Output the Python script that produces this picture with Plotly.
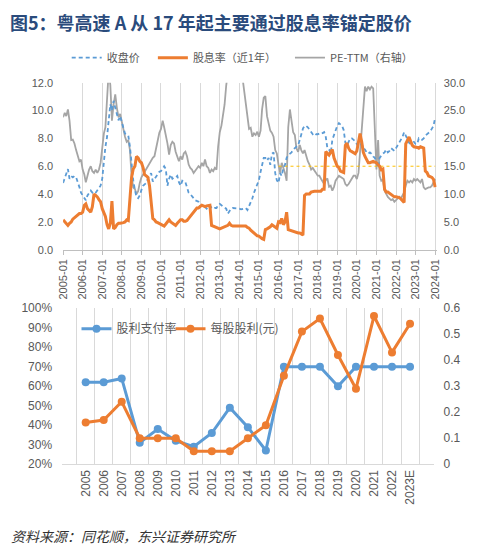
import pandas as pd
import plotly.graph_objects as go

# ---------------- Top chart data (monthly, 2005-01 .. 2024-01) ----------------
close_price = [
    4.8, 5.2, 5.5, 5.8, 5.1, 5.3, 5.2, 5.3, 5.2, 4.9, 4.5, 4.1,        # 2005
    3.9, 3.7, 3.55, 3.9, 4.1, 4.25, 4.1, 4.0, 4.1, 4.25, 4.4, 4.6,     # 2006
    5.1, 6.5, 7.4, 8.1, 9.5, 10.45, 10.0, 10.7, 10.2, 9.75, 9.3, 9.6,  # 2007
    9.15, 8.7, 8.35, 8.3, 8.2, 7.4, 6.2, 5.0, 4.3, 3.8, 3.7, 3.9,      # 2008
    4.3, 4.6, 4.7, 4.8, 5.1, 5.3, 5.5, 4.9, 5.1, 5.3, 5.5, 5.6,        # 2009
    5.65, 5.8, 6.0, 5.8, 4.6, 5.1, 5.4, 5.1, 5.2, 5.2, 5.3, 4.85,      # 2010
    4.6, 4.95, 4.85, 4.85, 4.5, 4.1, 4.0, 3.8, 3.7, 3.55, 3.5, 3.45,   # 2011
    3.1, 3.2, 3.2, 3.1, 2.95, 3.1, 3.2, 3.0, 2.95, 3.0, 3.0, 3.2,      # 2012
    3.3, 3.2, 3.1, 3.0, 2.95, 2.6, 2.8, 2.95, 3.0, 3.0, 2.95, 2.95,    # 2013
    2.95, 2.9, 2.95, 3.0, 3.0, 2.85, 3.1, 3.4, 3.7, 4.1, 4.4, 4.7,     # 2014
    5.0, 5.6, 6.2, 6.6, 6.6, 6.4, 6.6, 6.1, 6.9, 7.0, 5.5, 5.0,        # 2015
    4.8, 5.5, 5.3, 5.9, 6.1, 6.6, 6.8, 6.9, 7.0, 7.2, 7.3, 7.4,        # 2016
    7.5, 7.9, 8.3, 8.7, 8.9, 8.9, 8.8, 8.6, 8.4, 8.3, 8.4, 8.3,        # 2017
    8.3, 8.35, 8.3, 8.4, 8.45, 8.1, 7.3, 7.2, 6.9, 7.9, 8.3, 8.6,      # 2018
    8.9, 9.1, 9.0, 8.9, 8.6, 7.7, 7.5, 7.7, 8.0, 8.0, 7.9, 7.8,        # 2019
    7.6, 7.4, 7.5, 7.6, 7.3, 7.2, 7.0, 6.9, 7.0, 6.9, 6.7, 6.6,        # 2020
    6.3, 5.9, 6.6, 6.8, 6.9, 7.0, 7.2, 7.0, 7.1, 7.3, 7.2, 7.1,        # 2021
    7.3, 7.5, 7.75, 7.9, 8.1, 8.45, 8.2, 7.9, 7.7, 7.6, 7.7, 7.75,     # 2022
    7.6, 7.6, 8.0, 7.9, 7.9, 8.0, 8.2, 8.3, 8.35, 8.5, 8.7, 8.9,       # 2023
    9.5,                                                               # 2024-01
]

dividend_yield = [
    2.15, 2.0, 1.9, 1.75, 1.9, 2.0, 2.2, 2.3, 2.4, 2.5, 2.6, 2.6,      # 2005
    2.7, 3.2, 3.3, 2.95, 2.8, 2.7, 3.1, 4.0, 3.9, 3.8, 3.6, 3.45,      # 2006
    2.95, 2.6, 2.4, 1.8, 1.5, 1.9, 3.5, 1.5, 1.6, 1.8, 1.9, 1.9,       # 2007
    1.9, 1.95, 2.0, 2.15, 2.1, 3.65, 5.2, 5.8, 6.0, 6.7, 6.6, 6.35,    # 2008
    6.25, 5.9, 5.4, 5.3, 5.2, 4.6, 3.55, 2.25, 2.15, 2.0, 1.95, 1.9,   # 2009
    1.8, 1.75, 1.7, 1.85, 2.0, 2.15, 2.0, 1.9, 1.8, 1.75, 1.9, 2.05,   # 2010
    2.15, 2.15, 2.05, 2.05, 2.1, 2.25, 2.4, 2.6, 2.75, 2.9, 3.0, 3.0,  # 2011
    3.1, 3.2, 3.15, 3.1, 3.15, 3.2, 3.2, 1.75, 1.7, 1.7, 1.6, 1.55,    # 2012
    1.5, 1.55, 1.6, 1.65, 1.7, 1.75, 1.9, 1.75, 1.7, 1.7, 1.7, 1.7,    # 2013
    1.7, 1.7, 1.7, 1.7, 1.7, 1.6, 1.55, 1.4, 1.3, 1.15, 1.05, 1.0,     # 2014
    0.98, 0.86, 0.8, 0.75, 1.45, 1.5, 1.55, 1.65, 1.8, 1.7, 1.6, 1.55, # 2015
    2.0, 1.95, 2.25, 1.8, 2.0, 2.7, 1.45, 1.4, 1.35, 1.35, 1.3, 1.25,  # 2016
    1.2, 1.2, 1.15, 1.05, 3.9, 4.0, 4.0, 4.0, 4.15, 4.2, 4.2, 4.2,     # 2017
    4.2, 4.25, 4.2, 4.35, 4.35, 7.05, 6.9, 6.8, 7.0, 7.2, 6.6, 6.3,    # 2018
    6.0, 5.9, 5.65, 5.6, 5.55, 7.5, 7.65, 7.3, 7.1, 7.05, 6.95, 6.9,   # 2019
    7.1, 7.9, 8.35, 7.75, 7.0, 6.7, 6.5, 6.25, 6.25, 6.3, 6.35, 6.3,   # 2020
    6.25, 6.1, 6.0, 5.75, 5.8, 4.35, 4.15, 4.15, 4.05, 3.95, 3.85, 3.8,  # 2021
    3.8, 3.8, 3.75, 3.65, 3.5, 3.4, 7.6, 7.9, 8.1, 7.8, 7.5, 7.4,      # 2022
    7.4, 7.35, 7.3, 7.4, 7.35, 7.3, 5.65, 5.55, 5.3, 5.25, 5.2, 5.05,  # 2023
    4.5,                                                               # 2024-01
]

pe_ttm = [
    23.8, 24.6, 24.0, 25.2, 23.2, 19.7, 19.8, 19.1, 17.9, 16.8, 15.9, 16.2,  # 2005
    14.4, 13.5, 12.1, 13.3, 14.4, 15.0, 14.1, 13.8, 14.4, 13.8, 14.4, 15.6,  # 2006
    18.5, 20.9, 22.0, 27.9, 32.0, 29.6, 23.2, 26.1, 27.9, 25.5, 23.8, 24.4,  # 2007
    22.9, 21.4, 20.3, 19.4, 19.7, 17.9, 13.3, 11.2, 10.9, 10.0, 10.5, 12.0,  # 2008
    13.0, 13.5, 14.0, 14.5, 15.0, 15.5, 16.0, 16.5, 16.8, 18.3, 19.5, 21.0,  # 2009
    21.7, 23.2, 22.0, 20.6, 19.1, 17.1, 18.8, 19.4, 19.1, 17.6, 16.5, 15.9,  # 2010
    16.8, 16.2, 17.3, 17.6, 16.8, 15.3, 14.7, 14.4, 13.8, 14.1, 14.6, 15.0,  # 2011
    14.7, 15.6, 15.0, 16.2, 15.0, 14.7, 13.8, 14.4, 14.1, 14.7, 14.4, 18.5,  # 2012
    21.1, 22.3, 23.8, 26.1, 29.5, 33.0, 34.0, 34.0, 34.0, 34.0, 34.0, 34.0,  # 2013
    34.0, 33.0, 31.0, 28.5, 26.1, 23.8, 21.7, 21.9, 20.3, 20.9, 20.6, 21.2,  # 2014
    20.3, 21.4, 25.2, 27.3, 27.6, 24.0, 22.6, 21.4, 21.0, 20.3, 17.9, 17.3,  # 2015
    15.3, 13.8, 15.6, 14.7, 13.8, 12.4, 22.0, 25.2, 23.2, 21.1, 20.6, 18.2,  # 2016
    17.6, 18.8, 17.9, 17.3, 17.9, 16.8, 15.9, 15.3, 14.4, 14.7, 14.1, 13.8,  # 2017
    13.3, 13.3, 12.8, 12.2, 11.8, 12.5, 12.8, 11.3, 11.5, 10.6, 11.3, 12.4,  # 2018
    13.0, 13.3, 13.1, 12.9, 12.7, 11.8, 11.5, 11.8, 12.4, 12.7, 13.3, 13.3,  # 2019
    12.7, 13.8, 17.5, 22.6, 27.0, 29.3, 28.5, 29.3, 28.8, 29.3, 29.0, 20.0,  # 2020
    14.4, 19.7, 13.3, 12.4, 12.6, 10.6, 10.0, 9.5, 9.2, 8.9, 9.1, 8.6,       # 2021
    8.9, 9.2, 9.5, 9.2, 9.8, 10.3, 11.5, 12.4, 12.1, 12.4, 12.1, 12.7,       # 2022
    12.4, 12.7, 12.4, 12.1, 12.7, 11.2, 10.9, 11.1, 11.2, 11.2, 11.5, 12.1,  # 2023
    12.7,                                                                    # 2024-01
]

ref_line_x = ["2016-01-01", "2024-01-01"]
ref_line_y = [6.0, 6.0]

# ---------------- Bottom chart data ----------------
years = ["2005", "2006", "2007", "2008", "2009", "2010", "2011", "2012", "2013", "2014",
         "2015", "2016", "2017", "2018", "2019", "2020", "2021", "2022", "2023E"]
payout_ratio = [62, 62, 64, 31, 38, 32, 29, 36, 49, 39, 27, 70, 70, 70, 60, 70, 70, 70, 70]
dps = [0.16, 0.17, 0.24, 0.10, 0.10, 0.10, 0.05, 0.05, 0.05, 0.10, 0.15, 0.34,
       0.51, 0.56, 0.42, 0.29, 0.57, 0.43, 0.54]

months = pd.date_range("2005-01-01", periods=len(close_price), freq="MS")

W, H = 480, 556
def px_x(v):
    return v / W
def px_y(v):
    return 1 - v / H

BLUE = "#5B9BD5"
ORANGE = "#ED7D31"
GREY = "#A5A5A5"
TXT = "#595959"
GRID = "#D9D9D9"
NUMFONT = "Liberation Sans, Arial, Noto Sans CJK SC"
CJK = "Noto Sans CJK SC, Liberation Sans"

fig = go.Figure()

# PE on base (right) axis so the left-axis series are drawn on top
fig.add_trace(go.Scatter(x=months, y=pe_ttm, name="PE-TTM（右轴）", mode="lines",
                         line=dict(color=GREY, width=1.8), xaxis="x", yaxis="y",
                         legend="legend3"))
fig.add_trace(go.Scatter(x=ref_line_x, y=ref_line_y, mode="lines", showlegend=False,
                         line=dict(color="#FFC000", width=1, dash="dot"),
                         xaxis="x", yaxis="y2"))
fig.add_trace(go.Scatter(x=months, y=close_price, name="收盘价", mode="lines",
                         line=dict(color=BLUE, width=1.8, dash="4px,3px"),
                         xaxis="x", yaxis="y2", legend="legend"))
fig.add_trace(go.Scatter(x=months, y=dividend_yield, name="股息率（近1年）", mode="lines",
                         line=dict(color=ORANGE, width=3),
                         xaxis="x", yaxis="y2", legend="legend2"))

fig.add_trace(go.Scatter(x=years, y=payout_ratio, name="股利支付率", mode="lines+markers",
                         line=dict(color=BLUE, width=3), marker=dict(size=8, color=BLUE),
                         xaxis="x2", yaxis="y3", legend="legend4"))
fig.add_trace(go.Scatter(x=years, y=dps, name="每股股利(元)", mode="lines+markers",
                         line=dict(color=ORANGE, width=3), marker=dict(size=8, color=ORANGE),
                         xaxis="x2", yaxis="y4", legend="legend5"))

tickfont = dict(family=NUMFONT, size=11, color=TXT)


def top_legend(xpx):
    return dict(orientation="h", x=px_x(xpx), y=px_y(52), xanchor="left", yanchor="middle",
                font=dict(family=CJK, size=11, color=TXT), bgcolor="rgba(0,0,0,0)")


def bottom_legend(xpx):
    return dict(orientation="h", x=px_x(xpx), y=px_y(330), xanchor="left", yanchor="middle",
                font=dict(family=CJK, size=12, color=TXT), bgcolor="rgba(0,0,0,0)")


fig.update_layout(
    width=W, height=H,
    margin=dict(l=0, r=0, t=0, b=0),
    paper_bgcolor="white", plot_bgcolor="white",
    font=dict(family=NUMFONT, color=TXT),
    xaxis=dict(domain=[px_x(58.3), px_x(440)], anchor="y", type="date",
               range=["2005-01-01", "2024-02-01"], tick0="2005-01-01", dtick="M12",
               tickformat="%Y-%m", tickangle=-90, showgrid=True, gridcolor=GRID,
               gridwidth=1, showline=True, linecolor="#BFBFBF", ticks="outside",
               ticklen=4, tickcolor="#BFBFBF", tickfont=tickfont, zeroline=False),
    yaxis=dict(domain=[px_y(249), px_y(77.7)], anchor="x", side="right",
               range=[0, 30], dtick=5, tickformat=".1f", showgrid=False,
               zeroline=False, showline=False, tickfont=tickfont, ticklabelstandoff=6),
    yaxis2=dict(overlaying="y", anchor="x", side="left", range=[0, 12], dtick=2,
                tickformat=".1f", showgrid=False, zeroline=False, showline=False,
                tickfont=tickfont, ticklabelstandoff=9),
    xaxis2=dict(domain=[px_x(57.3), px_x(436.7)], anchor="y3", type="category",
                tickson="boundaries", tickangle=-90, showgrid=True, gridcolor=GRID,
                gridwidth=1, showline=True, linecolor=GRID, ticks="",
                tickfont=dict(family=NUMFONT, size=12, color=TXT)),
    yaxis3=dict(domain=[px_y(469), px_y(309)], anchor="x2", range=[20, 100], dtick=10,
                ticksuffix="%", showgrid=False, zeroline=False, showline=False,
                tickfont=dict(family=NUMFONT, size=12, color=TXT), ticklabelstandoff=9),
    yaxis4=dict(overlaying="y3", anchor="x2", side="right", range=[0, 0.6], dtick=0.1,
                showgrid=False, zeroline=False, showline=False,
                tickfont=dict(family=NUMFONT, size=12, color=TXT), ticklabelstandoff=9),
    legend=top_legend(62),
    legend2=top_legend(150),
    legend3=top_legend(290),
    legend4=bottom_legend(72),
    legend5=bottom_legend(168),
    annotations=[
        dict(text="<b>图5：粤高速 A 从 17 年起主要通过股息率锚定股价</b>", x=px_x(2), y=px_y(15),
             xref="paper", yref="paper", xanchor="left", yanchor="middle", showarrow=False,
             font=dict(family=CJK, size=18, color="#2A4B7C")),
        dict(text="资料来源：同花顺，东兴证券研究所", x=px_x(3), y=px_y(543),
             xref="paper", yref="paper", xanchor="left", yanchor="middle", showarrow=False,
             font=dict(family=CJK, size=14, color="#333333", style="italic")),
    ],
    showlegend=True,
)

fig.write_html(
    "out.html",
    config={"displayModeBar": False},
    post_script="document.body.style.margin='0';document.body.style.padding='0';"
                "document.body.style.overflow='hidden';",
)
